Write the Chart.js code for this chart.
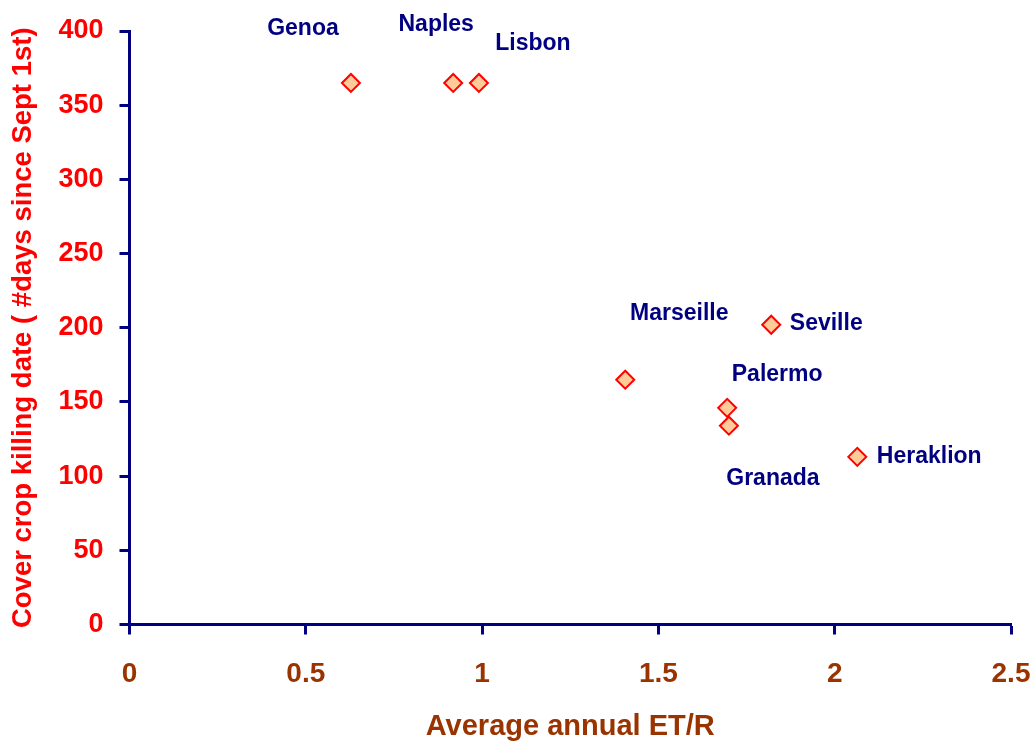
<!DOCTYPE html>
<html>
<head>
<meta charset="utf-8">
<script src="https://cdn.jsdelivr.net/npm/chart.js@4/dist/chart.umd.min.js"></script>
<style>
  html, body { margin: 0; padding: 0; background: #fff; }
  #box { width: 1036px; height: 745px; }
</style>
</head>
<body>
<div id="box"><canvas id="scatterChart" width="1036" height="745"></canvas></div>
<script>
// data
const cities = ['Genoa', 'Naples', 'Lisbon', 'Marseille', 'Seville', 'Palermo', 'Granada', 'Heraklion'];
const etr = [0.628, 0.918, 0.991, 1.406, 1.820, 1.695, 1.700, 2.064];
const killingDate = [365, 365, 365, 165, 202, 146, 134, 113];

// where each city name sits relative to its marker (px)
const labelShift = [[-48, -54], [-17, -58], [54, -39], [54, -66], [55, -1], [50, -33], [44, 53], [72, 0]];

const NAVY = '#000080';
const RED = '#ff0000';
const BROWN = '#993300';
const FONT = "'Liberation Sans', Arial, sans-serif";

const points = etr.map((x, i) => ({ x: x, y: killingDate[i] }));

// city names next to the markers
const cityLabels = {
    id: 'cityLabels',
    afterDatasetsDraw(chart) {
        const ctx = chart.ctx;
        const meta = chart.getDatasetMeta(0);
        ctx.save();
        ctx.font = 'bold 23px ' + FONT;
        ctx.fillStyle = NAVY;
        ctx.textAlign = 'center';
        ctx.textBaseline = 'middle';
        meta.data.forEach((pt, i) => {
            ctx.fillText(cities[i], pt.x + labelShift[i][0], pt.y + labelShift[i][1]);
        });
        ctx.restore();
    }
};

const ctx = document.getElementById('scatterChart').getContext('2d');
const chart = new Chart(ctx, {
    type: 'scatter',
    data: {
        datasets: [{
            label: 'cities',
            data: points,
            pointStyle: 'rectRot',
            pointRadius: 9,
            pointHoverRadius: 9,
            pointBackgroundColor: '#ffcc99',
            pointBorderColor: RED,
            pointBorderWidth: 2
        }]
    },
    options: {
        responsive: false,
        animation: false,
        layout: { padding: { top: 31, right: 25, left: 0, bottom: 0 } },
        plugins: {
            legend: { display: false },
            tooltip: { enabled: false }
        },
        scales: {
            x: {
                type: 'linear',
                min: 0,
                max: 2.5,
                afterFit: (scale) => {
                    scale.height = 120.5;
                    scale.paddingLeft = 0;
                    scale.paddingRight = 0;
                },
                ticks: {
                    stepSize: 0.5,
                    padding: 23,
                    color: BROWN,
                    font: { family: FONT, size: 28, weight: 'bold' },
                    callback: (v) => String(Math.round(v * 10) / 10)
                },
                grid: {
                    drawOnChartArea: false,
                    drawTicks: true,
                    tickLength: 10,
                    tickWidth: 3,
                    tickColor: NAVY
                },
                border: { display: true, color: NAVY, width: 3 },
                title: {
                    display: true,
                    text: 'Average annual ET/R',
                    color: BROWN,
                    padding: { top: 0, bottom: 1 },
                    font: { family: FONT, size: 29, weight: 'bold' }
                }
            },
            y: {
                type: 'linear',
                min: 0,
                max: 400,
                afterFit: (scale) => {
                    scale.width = 129.5;
                    scale.paddingTop = 0;
                    scale.paddingBottom = 0;
                },
                ticks: {
                    stepSize: 50,
                    padding: 16,
                    color: RED,
                    font: { family: FONT, size: 27, weight: 'bold' }
                },
                grid: {
                    drawOnChartArea: false,
                    drawTicks: true,
                    tickLength: 10,
                    tickWidth: 3,
                    tickColor: NAVY
                },
                border: { display: true, color: NAVY, width: 3 },
                title: {
                    display: true,
                    text: 'Cover crop killing date ( #days since Sept 1st)',
                    color: RED,
                    padding: { top: 7, bottom: 0 },
                    font: { family: FONT, size: 27.5, weight: 'bold' }
                }
            }
        }
    },
    plugins: [cityLabels]
});
</script>
</body>
</html>
